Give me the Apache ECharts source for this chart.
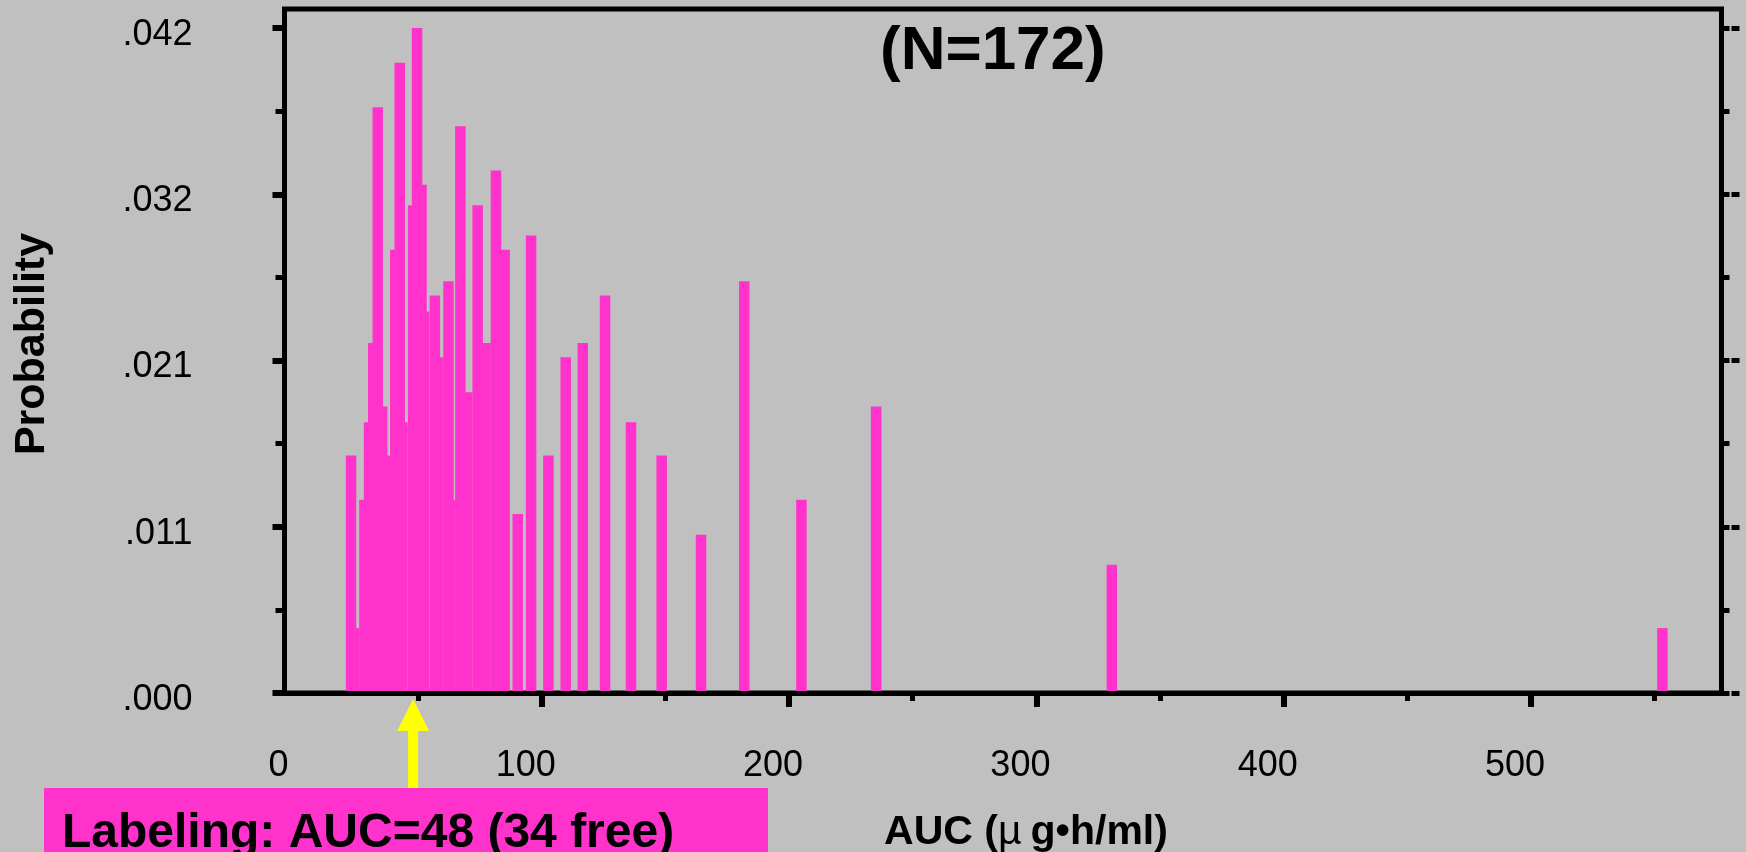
<!DOCTYPE html>
<html>
<head>
<meta charset="utf-8">
<script src="https://cdn.jsdelivr.net/npm/echarts@6/dist/echarts.min.js"></script>
<style>
  html, body { margin: 0; padding: 0; background: #c0c0c0; }
  #chart { width: 1746px; height: 852px; }
</style>
</head>
<body>
<div id="chart"></div>
<script>
// AUC values (µg•h/ml) at which each histogram bar sits
const aucValues = [
  22.9, 24.0, 28.3, 30.2, 31.9, 33.7, 35.5, 36.7, 40.8, 42.6,
  43.7, 48.0, 49.6, 51.4, 52.5, 56.8, 58.1, 62.3, 62.9, 67.1,
  69.9, 74.1, 77.3, 81.5, 85.0, 90.3, 95.7, 102.7, 109.7, 116.6,
  125.6, 136.1, 148.5, 164.4, 181.9, 205.0, 235.2, 330.5, 553.1
];
// probability of each bar
const probabilities = [
  0.0150, 0.0041, 0.0122, 0.0171, 0.0221, 0.0370, 0.0181, 0.0150, 0.0280, 0.0398,
  0.0171, 0.0308, 0.0420, 0.0321, 0.0241, 0.0251, 0.0212, 0.0260, 0.0122, 0.0358,
  0.0190, 0.0308, 0.0221, 0.0330, 0.0280, 0.0113, 0.0289, 0.0150, 0.0212, 0.0221,
  0.0251, 0.0171, 0.0150, 0.0100, 0.0260, 0.0122, 0.0181, 0.0081, 0.0041
];

// axis ranges and ticks
const xMin = -4, xMax = 577;
const yMin = 0, yMax = 0.0432;
const xLabelValues = [0, 100, 200, 300, 400, 500];
const xMajorTicks = [100, 200, 300, 400, 500];
const xMinorTicks = [50, 150, 250, 350, 450, 550];
const yTickValues = [0, 0.0105, 0.021, 0.0315, 0.042];
const yTickLabels = ['.000', '.011', '.021', '.032', '.042'];
const yMinorTicks = [0.00525, 0.01575, 0.02625, 0.03675];

// annotation
const labelingAUC = 48;
const labelingFree = 34;
const sampleSize = 172;

const FONT = '"Liberation Sans", Arial, sans-serif';
const BAR_COLOR = '#ff33cc';

const chart = echarts.init(document.getElementById('chart'), null, { renderer: 'canvas' });

const barData = aucValues.map((x, i) => [x, probabilities[i]]);

// tick labels sit a little below their tick marks
function yLabel(v) {
  const i = yTickValues.findIndex(t => Math.abs(t - v) < 1e-7);
  return i >= 0 ? '{t|' + yTickLabels[i] + '}' : '';
}

const tickStyle = (w) => ({ color: '#000', width: w, cap: 'butt' });

const option = {
  backgroundColor: '#c0c0c0',
  animation: false,
  textStyle: { fontFamily: FONT },
  title: {
    text: '(N=' + sampleSize + ')',
    left: 875,
    top: 16,
    textStyle: { fontFamily: FONT, fontSize: 62, fontWeight: 'bold', color: '#000' }
  },
  grid: {
    left: 284.5, top: 9, right: 24.5, bottom: 159,
    outerBoundsMode: 'none',
    containLabel: false,
    show: true,
    backgroundColor: 'transparent',
    borderColor: '#000',
    borderWidth: 5
  },
  xAxis: [
    {
      type: 'value', min: xMin, max: xMax, position: 'bottom', z: 3,
      axisLine: { show: true, onZero: false, lineStyle: { color: '#000', width: 5 } },
      axisTick: { show: true, customValues: xMajorTicks, length: 14, lineStyle: tickStyle(6) },
      axisLabel: {
        show: true, customValues: xLabelValues, margin: 55,
        fontFamily: FONT, fontSize: 36, color: '#000', padding: [0, 32, 0, 0]
      },
      splitLine: { show: false },
      name: '{b|AUC (}{m|µ}{b|g•h/ml)}',
      nameLocation: 'middle',
      nameGap: 119,
      nameTextStyle: {
        padding: [0, 0, 0, 46],
        rich: {
          b: { fontFamily: FONT, fontSize: 41, fontWeight: 'bold', color: '#000' },
          m: { fontFamily: FONT, fontSize: 41, fontWeight: 'normal', color: '#000', padding: [0, 9, 0, 0] }
        }
      }
    },
    {
      type: 'value', min: xMin, max: xMax, position: 'bottom', z: 3,
      axisLine: { show: false, onZero: false },
      axisTick: { show: true, customValues: xMinorTicks, length: 8, lineStyle: tickStyle(5) },
      axisLabel: { show: false },
      splitLine: { show: false }
    }
  ],
  yAxis: [
    {
      type: 'value', min: yMin, max: yMax, position: 'left', z: 3,
      axisLine: { show: false, onZero: false },
      axisTick: { show: true, customValues: yTickValues, length: 12, lineStyle: tickStyle(6) },
      axisLabel: {
        show: true, customValues: yTickValues, formatter: yLabel, margin: 92,
        color: '#000',
        rich: {
          t: { fontFamily: FONT, fontSize: 36, color: '#000', padding: [14, 0, 0, 0] }
        }
      },
      splitLine: { show: false },
      name: 'Probability',
      nameLocation: 'middle',
      nameRotate: 90,
      nameGap: 231,
      nameTextStyle: { fontFamily: FONT, fontSize: 43, fontWeight: 'bold', color: '#000', padding: [0, 0, 0, 14] }
    },
    {
      type: 'value', min: yMin, max: yMax, position: 'left', z: 3,
      axisLine: { show: false, onZero: false },
      axisTick: { show: true, customValues: yMinorTicks, length: 9, lineStyle: tickStyle(5) },
      axisLabel: { show: false },
      splitLine: { show: false }
    },
    {
      type: 'value', min: yMin, max: yMax, position: 'right', z: 3,
      axisLine: { show: false, onZero: false },
      axisTick: { show: true, customValues: yTickValues.concat(yMinorTicks), length: 8, lineStyle: tickStyle(5) },
      axisLabel: { show: false },
      splitLine: { show: false }
    },
    {
      type: 'value', min: yMin, max: yMax, position: 'right', offset: 10, z: 3,
      axisLine: { show: false, onZero: false },
      axisTick: { show: true, customValues: yTickValues, length: 8, lineStyle: tickStyle(5) },
      axisLabel: { show: false },
      splitLine: { show: false }
    }
  ],
  series: [
    {
      type: 'bar',
      xAxisIndex: 0,
      yAxisIndex: 0,
      data: barData,
      barWidth: 10.5,
      itemStyle: { color: BAR_COLOR },
      emphasis: { disabled: true },
      z: 2
    }
  ]
};

chart.setOption(option);

// Labeling annotation: callout box with an arrow pointing at the labeled AUC on the x axis
const arrowX = chart.convertToPixel({ xAxisIndex: 0 }, labelingAUC);
const axisY = chart.convertToPixel({ yAxisIndex: 0 }, 0);
const boxTop = 788;
const tipY = axisY + 6;
const headH = 32, headW = 32, shaftW = 10;

chart.setOption({
  graphic: [
    {
      type: 'rect', z: 10,
      shape: { x: 44, y: boxTop, width: 724, height: 80 },
      style: { fill: BAR_COLOR }
    },
    {
      type: 'text', z: 11,
      x: 62, y: 834,
      style: {
        text: 'Labeling: AUC=' + labelingAUC + ' (' + labelingFree + ' free)',
        font: 'bold 48px ' + FONT,
        fill: '#000',
        textVerticalAlign: 'middle',
        verticalAlign: 'middle'
      }
    },
    {
      type: 'rect', z: 10,
      shape: { x: arrowX - shaftW / 2, y: tipY + headH - 2, width: shaftW, height: boxTop - (tipY + headH - 2) },
      style: { fill: '#ffff00' }
    },
    {
      type: 'polygon', z: 10,
      shape: { points: [[arrowX - headW / 2, tipY + headH], [arrowX + headW / 2, tipY + headH], [arrowX, tipY]] },
      style: { fill: '#ffff00' }
    }
  ]
});
</script>
</body>
</html>
